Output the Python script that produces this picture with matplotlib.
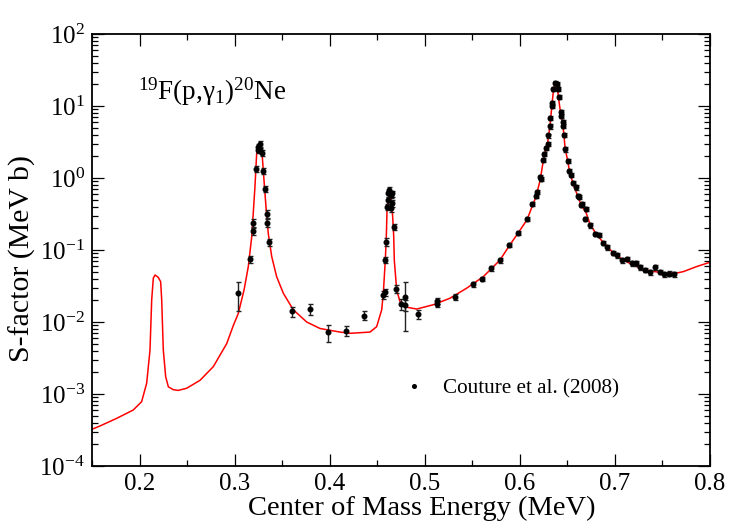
import matplotlib
matplotlib.use("Agg")
import matplotlib.pyplot as plt
import numpy as np
from matplotlib.ticker import MultipleLocator, LogLocator, LogFormatterSciNotation, NullFormatter, FormatStrFormatter
from matplotlib.lines import Line2D

plt.rcParams['font.family'] = ['Liberation Serif', 'DejaVu Serif']
plt.rcParams['mathtext.fontset'] = 'custom'
plt.rcParams['mathtext.rm'] = 'Liberation Serif'
plt.rcParams['mathtext.it'] = 'Liberation Serif:italic'
plt.rcParams['mathtext.bf'] = 'Liberation Serif:bold'
plt.rcParams['mathtext.default'] = 'regular'

# ---- fit curve: energy (MeV), log10 S-factor ----
curve_x = [0.150, 0.1584, 0.176, 0.1934, 0.2022, 0.2075, 0.2110, 0.2128, 0.2145, 0.2163,
           0.2197, 0.2222, 0.2233, 0.2250, 0.2275, 0.2303, 0.2355, 0.2408, 0.2496, 0.2636,
           0.2776, 0.2917, 0.2986, 0.3039, 0.3100, 0.3144, 0.3180, 0.3214, 0.3232, 0.3253,
           0.3277, 0.3291, 0.3309, 0.3330, 0.3354, 0.3390, 0.3442, 0.3512, 0.3617, 0.3758,
           0.3898, 0.4108, 0.4213, 0.4424, 0.4494, 0.4547, 0.4564, 0.4585, 0.4596, 0.4603,
           0.4613, 0.4620, 0.4650, 0.4663, 0.4673, 0.4680, 0.4705, 0.4740, 0.4792, 0.4915,
           0.5090, 0.5265, 0.5441, 0.5616, 0.5791, 0.5889, 0.5984, 0.6075, 0.6128, 0.6170,
           0.6215, 0.6254, 0.6293, 0.6317, 0.6335, 0.6352, 0.6370, 0.6387, 0.6398, 0.6408,
           0.6429, 0.6450, 0.6464, 0.6475, 0.6503, 0.6520, 0.6555, 0.6611, 0.6643, 0.6696,
           0.6738, 0.6790, 0.6878, 0.6976, 0.7078, 0.7176, 0.7264, 0.7366, 0.7470, 0.7544,
           0.7650, 0.7720, 0.7860, 0.8000]
curve_logS = [-3.49, -3.444, -3.338, -3.222, -3.107, -2.85, -2.39, -1.69, -1.39, -1.347,
              -1.38, -1.44, -1.69, -2.39, -2.76, -2.90, -2.94, -2.95, -2.92, -2.81,
              -2.62, -2.30, -2.05, -1.88, -1.55, -1.23, -0.815, -0.12, 0.343, 0.435,
              0.41, 0.30, -0.03, -0.40, -0.77, -1.09, -1.37, -1.60, -1.83, -2.00,
              -2.09, -2.14, -2.157, -2.14, -2.065, -1.83, -1.60, -1.14, -0.80, -0.45,
              -0.30, -0.27, -0.30, -0.55, -0.80, -1.15, -1.56, -1.72, -1.79, -1.82,
              -1.76, -1.67, -1.53, -1.37, -1.14, -0.94, -0.76, -0.58, -0.40, -0.26,
              -0.02, 0.30, 0.50, 0.72, 0.98, 1.20, 1.32, 1.30, 1.22, 1.10,
              0.90, 0.76, 0.60, 0.42, 0.24, 0.11, -0.06, -0.26, -0.37, -0.48,
              -0.64, -0.75, -0.90, -1.03, -1.13, -1.20, -1.25, -1.29, -1.31, -1.32,
              -1.32, -1.30, -1.23, -1.17]

# ---- Couture et al. (2008) data ----
data_E = [0.3032, 0.3158, 0.3193, 0.3193, 0.3221, 0.3243, 0.3264, 0.3250, 0.3271, 0.3285,
          0.3298, 0.3320, 0.3340, 0.3340, 0.3365, 0.3603, 0.3796, 0.3986, 0.4170, 0.4364,
          0.4557, 0.4578, 0.4585, 0.4596, 0.4603, 0.4613, 0.4617, 0.4627, 0.4641, 0.4659,
          0.4648, 0.4659, 0.4673, 0.4701, 0.4747, 0.4796, 0.4796, 0.4932, 0.5129, 0.5129,
          0.5318, 0.5507, 0.5602, 0.5696, 0.5791, 0.5889, 0.5984, 0.6075, 0.6128, 0.6170,
          0.6184, 0.6215, 0.6225, 0.6247, 0.6254, 0.6279, 0.6293, 0.6300, 0.6317, 0.6321,
          0.6335, 0.6338, 0.6352, 0.6370, 0.6387, 0.6398, 0.6408, 0.6429, 0.6433, 0.6450,
          0.6454, 0.6464, 0.6475, 0.6503, 0.6520, 0.6535, 0.6555, 0.6587, 0.6611, 0.6625,
          0.6643, 0.6653, 0.6696, 0.6685, 0.6738, 0.6790, 0.6836, 0.6878, 0.6917, 0.6976,
          0.7025, 0.7078, 0.7127, 0.7176, 0.7218, 0.7264, 0.7313, 0.7366, 0.7421, 0.7470,
          0.7519, 0.7572, 0.7621]
data_S = [0.0253, 0.075, 0.184, 0.24, 1.33, 2.67, 3.0, 2.45, 2.45, 2.25,
          1.24, 0.71, 0.316, 0.237, 0.128, 0.0141, 0.0153, 0.0072, 0.0075, 0.0123,
          0.0237, 0.026, 0.073, 0.13, 0.40, 0.49, 0.61, 0.68, 0.58, 0.61,
          0.38, 0.45, 0.21, 0.029, 0.0176, 0.022, 0.0173, 0.0129, 0.0198, 0.018,
          0.0224, 0.0334, 0.0396, 0.0557, 0.072, 0.117, 0.174, 0.267, 0.44, 0.56,
          0.64, 1.04, 0.96, 1.78, 2.15, 2.63, 2.97, 3.9, 5.2, 6.9,
          10.1, 10.9, 17.0, 21.1, 20.0, 17.0, 13.2, 8.2, 7.3, 6.05,
          5.3, 3.95, 2.5, 1.74, 1.27, 1.1, 0.86, 0.74, 0.56, 0.55,
          0.42, 0.44, 0.37, 0.27, 0.22, 0.166, 0.162, 0.124, 0.109, 0.092,
          0.084, 0.072, 0.075, 0.065, 0.065, 0.0575, 0.0527, 0.049, 0.0575, 0.050,
          0.046, 0.047, 0.046]
data_err = [0.011, 0.008, 0.02, 0.03, 0.12, 0.25, 0.3, 0.2, 0.2, 0.2,
            0.12, 0.07, 0.04, 0.03, 0.013, 0.0022, 0.0026, 0.0019, 0.0012, 0.0018,
            0.003, 0.003, 0.008, 0.015, 0.04, 0.05, 0.06, 0.07, 0.06, 0.06,
            0.04, 0.05, 0.02, 0.004, 0.003, 0.0145, 0.003, 0.0018, 0.002, 0.002,
            0.002, 0.003, 0.003, 0.004, 0.005, 0.008, 0.012, 0.018, 0.03, 0.04,
            0.04, 0.07, 0.06, 0.12, 0.14, 0.17, 0.2, 0.25, 0.35, 0.45,
            0.65, 0.7, 1.1, 1.4, 1.3, 1.1, 0.85, 0.55, 0.5, 0.4,
            0.35, 0.26, 0.17, 0.12, 0.085, 0.075, 0.058, 0.05, 0.038, 0.037,
            0.028, 0.03, 0.025, 0.018, 0.015, 0.011, 0.011, 0.0085, 0.0075, 0.0063,
            0.0058, 0.005, 0.005, 0.0045, 0.0045, 0.004, 0.0036, 0.0034, 0.004, 0.0035,
            0.0032, 0.0033, 0.0032]

fig = plt.figure(figsize=(7.36, 5.26), dpi=100)
ax = fig.add_axes([92/736, 1-466/526, 618/736, 432/526])

ax.plot(curve_x, np.power(10.0, curve_logS), color='red', lw=1.1, zorder=2)
ax.errorbar(data_E, data_S, yerr=data_err, fmt='o', color='black', ms=3.3,
            elinewidth=1.0, capsize=1.8, capthick=1.0, ecolor='#222222', zorder=3)

ax.set_yscale('log')
ax.set_xlim(0.15, 0.8)
ax.set_ylim(1e-4, 1e2)

ax.xaxis.set_major_locator(MultipleLocator(0.1))
ax.xaxis.set_minor_locator(MultipleLocator(0.05))
ax.xaxis.set_major_formatter(FormatStrFormatter('%.1f'))
ax.yaxis.set_major_locator(LogLocator(base=10, numticks=10))
ax.yaxis.set_minor_locator(LogLocator(base=10, subs=np.arange(2, 10), numticks=20))
ax.yaxis.set_major_formatter(LogFormatterSciNotation())
ax.yaxis.set_minor_formatter(NullFormatter())

ax.tick_params(which='both', direction='in', top=True, right=True, width=0.9, labelsize=18)
ax.tick_params(which='major', length=8.6, pad=5)
ax.tick_params(which='minor', length=4.3)
for s in ax.spines.values():
    s.set_linewidth(1.3)

ax.set_xlabel('Center of Mass Energy (MeV)', fontsize=20.5)
ax.xaxis.set_label_coords(0.534, -0.07)
ax.xaxis.label.set_va('top')
ax.set_ylabel('S-factor (MeV b)', fontsize=21.5)
ax.yaxis.set_label_coords(-0.09, 0.481)

ax.text(0.074, 0.847, r'$^{19}$F(p,$\gamma_1$)$^{20}$Ne', transform=ax.transAxes,
        fontsize=19.5, ha='left', va='baseline')

proxy = Line2D([], [], marker='o', ms=2.6, color='black', ls='none')
ax.legend([proxy], ['Couture et al. (2008)'], loc='center left',
          bbox_to_anchor=(0.469, 0.18), frameon=False, fontsize=15.2,
          handlelength=1.2, handletextpad=0.8)

fig.savefig('out.png', dpi=100)
